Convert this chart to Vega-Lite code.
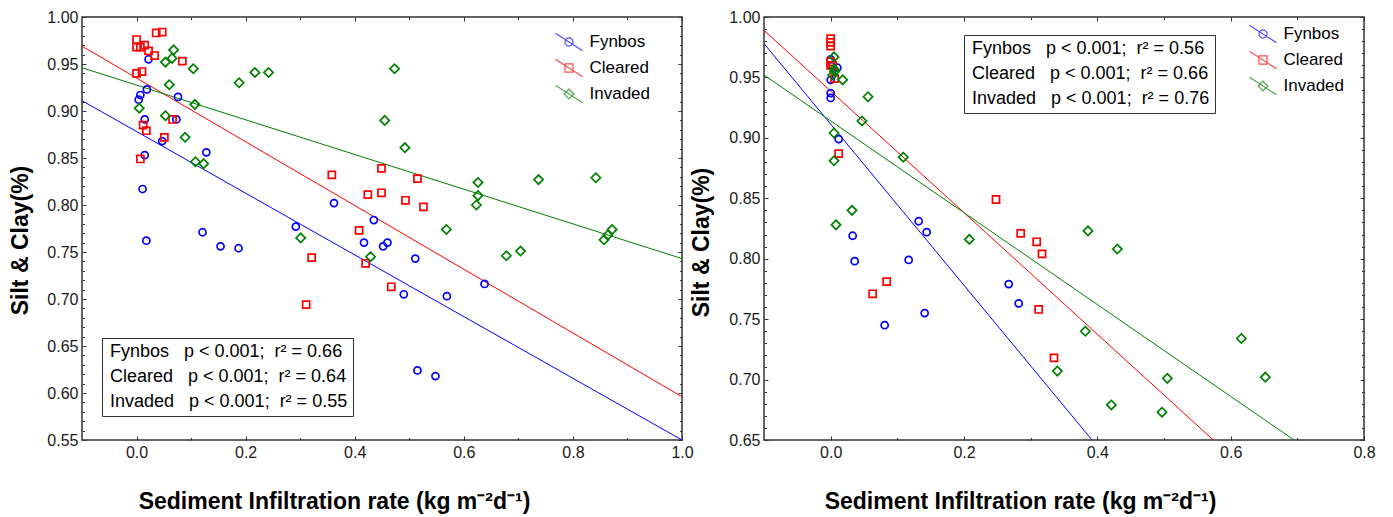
{
  "$schema": "https://vega.github.io/schema/vega-lite/v6.json",
  "background": "white",
  "padding": {"left": 8, "top": 8, "right": 5, "bottom": 5},
  "bounds": "flush",
  "spacing": 82,
  "datasets": {
    "leftLines": [
      {"group": "Fynbos", "x": -0.1, "y": 0.911}, {"group": "Fynbos", "x": 1.0, "y": 0.55},
      {"group": "Cleared", "x": -0.1, "y": 0.969}, {"group": "Cleared", "x": 1.0, "y": 0.596},
      {"group": "Invaded", "x": -0.1, "y": 0.946}, {"group": "Invaded", "x": 1.0, "y": 0.743}
    ],
    "rightLines": [
      {"group": "Fynbos", "x": -0.1, "y": 0.978}, {"group": "Fynbos", "x": 0.392, "y": 0.65},
      {"group": "Cleared", "x": -0.1, "y": 0.989}, {"group": "Cleared", "x": 0.574, "y": 0.65},
      {"group": "Invaded", "x": -0.1, "y": 0.952}, {"group": "Invaded", "x": 0.695, "y": 0.65}
    ],
    "leftPts": [
      {"group": "Fynbos", "x": 0.022, "y": 0.955}, {"group": "Fynbos", "x": 0.019, "y": 0.923}, {"group": "Fynbos", "x": 0.007, "y": 0.917}, {"group": "Fynbos", "x": 0.004, "y": 0.912}, {"group": "Fynbos", "x": 0.076, "y": 0.915}, {"group": "Fynbos", "x": 0.015, "y": 0.891}, {"group": "Fynbos", "x": 0.073, "y": 0.891}, {"group": "Fynbos", "x": 0.047, "y": 0.868}, {"group": "Fynbos", "x": 0.015, "y": 0.853}, {"group": "Fynbos", "x": 0.128, "y": 0.856}, {"group": "Fynbos", "x": 0.011, "y": 0.817}, {"group": "Fynbos", "x": 0.018, "y": 0.762}, {"group": "Fynbos", "x": 0.121, "y": 0.771}, {"group": "Fynbos", "x": 0.154, "y": 0.756}, {"group": "Fynbos", "x": 0.187, "y": 0.754}, {"group": "Fynbos", "x": 0.292, "y": 0.777}, {"group": "Fynbos", "x": 0.362, "y": 0.802}, {"group": "Fynbos", "x": 0.435, "y": 0.784}, {"group": "Fynbos", "x": 0.417, "y": 0.76}, {"group": "Fynbos", "x": 0.452, "y": 0.756}, {"group": "Fynbos", "x": 0.46, "y": 0.76}, {"group": "Fynbos", "x": 0.511, "y": 0.743}, {"group": "Fynbos", "x": 0.49, "y": 0.705}, {"group": "Fynbos", "x": 0.569, "y": 0.703}, {"group": "Fynbos", "x": 0.638, "y": 0.716}, {"group": "Fynbos", "x": 0.515, "y": 0.624}, {"group": "Fynbos", "x": 0.548, "y": 0.618},
      {"group": "Cleared", "x": 0.0, "y": 0.976}, {"group": "Cleared", "x": 0.0, "y": 0.968}, {"group": "Cleared", "x": 0.007, "y": 0.968}, {"group": "Cleared", "x": 0.015, "y": 0.97}, {"group": "Cleared", "x": 0.022, "y": 0.964}, {"group": "Cleared", "x": 0.033, "y": 0.959}, {"group": "Cleared", "x": 0.036, "y": 0.983}, {"group": "Cleared", "x": 0.047, "y": 0.984}, {"group": "Cleared", "x": 0.084, "y": 0.953}, {"group": "Cleared", "x": 0.0, "y": 0.94}, {"group": "Cleared", "x": 0.01, "y": 0.942}, {"group": "Cleared", "x": 0.012, "y": 0.885}, {"group": "Cleared", "x": 0.018, "y": 0.879}, {"group": "Cleared", "x": 0.066, "y": 0.891}, {"group": "Cleared", "x": 0.051, "y": 0.872}, {"group": "Cleared", "x": 0.007, "y": 0.849}, {"group": "Cleared", "x": 0.358, "y": 0.832}, {"group": "Cleared", "x": 0.424, "y": 0.811}, {"group": "Cleared", "x": 0.449, "y": 0.813}, {"group": "Cleared", "x": 0.449, "y": 0.839}, {"group": "Cleared", "x": 0.515, "y": 0.828}, {"group": "Cleared", "x": 0.493, "y": 0.805}, {"group": "Cleared", "x": 0.526, "y": 0.798}, {"group": "Cleared", "x": 0.408, "y": 0.773}, {"group": "Cleared", "x": 0.321, "y": 0.744}, {"group": "Cleared", "x": 0.42, "y": 0.738}, {"group": "Cleared", "x": 0.311, "y": 0.694}, {"group": "Cleared", "x": 0.467, "y": 0.713},
      {"group": "Invaded", "x": 0.068, "y": 0.965}, {"group": "Invaded", "x": 0.065, "y": 0.956}, {"group": "Invaded", "x": 0.053, "y": 0.952}, {"group": "Invaded", "x": 0.104, "y": 0.945}, {"group": "Invaded", "x": 0.06, "y": 0.928}, {"group": "Invaded", "x": 0.188, "y": 0.93}, {"group": "Invaded", "x": 0.217, "y": 0.941}, {"group": "Invaded", "x": 0.242, "y": 0.941}, {"group": "Invaded", "x": 0.005, "y": 0.903}, {"group": "Invaded", "x": 0.107, "y": 0.907}, {"group": "Invaded", "x": 0.053, "y": 0.895}, {"group": "Invaded", "x": 0.089, "y": 0.872}, {"group": "Invaded", "x": 0.108, "y": 0.846}, {"group": "Invaded", "x": 0.123, "y": 0.844}, {"group": "Invaded", "x": 0.301, "y": 0.765}, {"group": "Invaded", "x": 0.429, "y": 0.745}, {"group": "Invaded", "x": 0.455, "y": 0.89}, {"group": "Invaded", "x": 0.473, "y": 0.945}, {"group": "Invaded", "x": 0.492, "y": 0.861}, {"group": "Invaded", "x": 0.626, "y": 0.824}, {"group": "Invaded", "x": 0.626, "y": 0.81}, {"group": "Invaded", "x": 0.623, "y": 0.8}, {"group": "Invaded", "x": 0.737, "y": 0.827}, {"group": "Invaded", "x": 0.842, "y": 0.829}, {"group": "Invaded", "x": 0.568, "y": 0.774}, {"group": "Invaded", "x": 0.678, "y": 0.746}, {"group": "Invaded", "x": 0.704, "y": 0.751}, {"group": "Invaded", "x": 0.857, "y": 0.763}, {"group": "Invaded", "x": 0.864, "y": 0.768}, {"group": "Invaded", "x": 0.872, "y": 0.774}
    ],
    "rightPts": [
      {"group": "Fynbos", "x": 0.0, "y": 0.965}, {"group": "Fynbos", "x": 0.0, "y": 0.96}, {"group": "Fynbos", "x": 0.01, "y": 0.958}, {"group": "Fynbos", "x": 0.0, "y": 0.948}, {"group": "Fynbos", "x": 0.0, "y": 0.937}, {"group": "Fynbos", "x": 0.0, "y": 0.933}, {"group": "Fynbos", "x": 0.012, "y": 0.899}, {"group": "Fynbos", "x": 0.033, "y": 0.819}, {"group": "Fynbos", "x": 0.036, "y": 0.798}, {"group": "Fynbos", "x": 0.081, "y": 0.745}, {"group": "Fynbos", "x": 0.117, "y": 0.799}, {"group": "Fynbos", "x": 0.132, "y": 0.831}, {"group": "Fynbos", "x": 0.144, "y": 0.822}, {"group": "Fynbos", "x": 0.141, "y": 0.755}, {"group": "Fynbos", "x": 0.267, "y": 0.779}, {"group": "Fynbos", "x": 0.282, "y": 0.763},
      {"group": "Cleared", "x": 0.0, "y": 0.982}, {"group": "Cleared", "x": 0.0, "y": 0.979}, {"group": "Cleared", "x": 0.0, "y": 0.976}, {"group": "Cleared", "x": 0.0, "y": 0.96}, {"group": "Cleared", "x": 0.003, "y": 0.96}, {"group": "Cleared", "x": 0.0, "y": 0.963}, {"group": "Cleared", "x": 0.006, "y": 0.949}, {"group": "Cleared", "x": 0.012, "y": 0.887}, {"group": "Cleared", "x": 0.248, "y": 0.849}, {"group": "Cleared", "x": 0.285, "y": 0.821}, {"group": "Cleared", "x": 0.309, "y": 0.814}, {"group": "Cleared", "x": 0.317, "y": 0.804}, {"group": "Cleared", "x": 0.312, "y": 0.758}, {"group": "Cleared", "x": 0.335, "y": 0.718}, {"group": "Cleared", "x": 0.063, "y": 0.771}, {"group": "Cleared", "x": 0.084, "y": 0.781},
      {"group": "Invaded", "x": 0.005, "y": 0.967}, {"group": "Invaded", "x": 0.005, "y": 0.957}, {"group": "Invaded", "x": 0.006, "y": 0.955}, {"group": "Invaded", "x": 0.003, "y": 0.952}, {"group": "Invaded", "x": 0.018, "y": 0.948}, {"group": "Invaded", "x": 0.056, "y": 0.934}, {"group": "Invaded", "x": 0.047, "y": 0.914}, {"group": "Invaded", "x": 0.005, "y": 0.904}, {"group": "Invaded", "x": 0.005, "y": 0.881}, {"group": "Invaded", "x": 0.109, "y": 0.884}, {"group": "Invaded", "x": 0.008, "y": 0.828}, {"group": "Invaded", "x": 0.032, "y": 0.84}, {"group": "Invaded", "x": 0.208, "y": 0.816}, {"group": "Invaded", "x": 0.386, "y": 0.823}, {"group": "Invaded", "x": 0.43, "y": 0.808}, {"group": "Invaded", "x": 0.382, "y": 0.74}, {"group": "Invaded", "x": 0.34, "y": 0.707}, {"group": "Invaded", "x": 0.421, "y": 0.679}, {"group": "Invaded", "x": 0.497, "y": 0.673}, {"group": "Invaded", "x": 0.505, "y": 0.701}, {"group": "Invaded", "x": 0.616, "y": 0.734}, {"group": "Invaded", "x": 0.652, "y": 0.702}
    ],
    "leftStats": [
      {"label": "Fynbos\u00a0\u00a0\u00a0p < 0.001;\u00a0\u00a0r² = 0.66"},
      {"label": "Cleared\u00a0\u00a0\u00a0p < 0.001;\u00a0\u00a0r² = 0.64"},
      {"label": "Invaded\u00a0\u00a0\u00a0p < 0.001;\u00a0\u00a0r² = 0.55"}
    ],
    "rightStats": [
      {"label": "Fynbos\u00a0\u00a0\u00a0p < 0.001;\u00a0\u00a0r² = 0.56"},
      {"label": "Cleared\u00a0\u00a0\u00a0p < 0.001;\u00a0\u00a0r² = 0.66"},
      {"label": "Invaded\u00a0\u00a0\u00a0p < 0.001;\u00a0\u00a0r² = 0.76"}
    ]
  },
  "hconcat": [
    {
      "width": 600,
      "height": 423,
      "layer": [
        {
          "data": {"name": "leftLines"},
          "mark": {"type": "line", "clip": true, "strokeWidth": 1},
          "encoding": {
            "x": {"field": "x", "type": "quantitative", "scale": {"domain": [-0.1, 1.0], "nice": false, "zero": false},
              "axis": {"values": [0, 0.2, 0.4, 0.6, 0.8, 1.0], "format": ".1f", "tickSize": -4, "labelPadding": 8, "title": "Sediment Infiltration rate (kg m⁻²d⁻¹)", "titleX": 252, "titleY": 61, "titleBaseline": "middle", "titleAlign": "center"}},
            "y": {"field": "y", "type": "quantitative", "scale": {"domain": [0.55, 1.0], "nice": false, "zero": false},
              "axis": {"values": [0.55, 0.6, 0.65, 0.7, 0.75, 0.8, 0.85, 0.9, 0.95, 1.0], "format": ".2f", "tickSize": -4, "labelPadding": 8, "title": "Silt & Clay(%)", "titleX": -62, "titleY": 223, "titleBaseline": "middle", "titleAlign": "center"}},
            "stroke": {"field": "group", "type": "nominal", "scale": {"domain": ["Cleared", "Fynbos", "Invaded"], "range": ["#ff0000", "#0000ff", "#008000"]}, "legend": null}
          }
        },
        {
          "data": {"name": "leftPts"},
          "mark": {"type": "point", "filled": false, "strokeWidth": 1.7, "size": 50, "opacity": 1},
          "encoding": {
            "x": {"field": "x", "type": "quantitative", "scale": {"domain": [-0.1, 1.0], "nice": false, "zero": false}, "axis": null},
            "y": {"field": "y", "type": "quantitative", "scale": {"domain": [0.55, 1.0], "nice": false, "zero": false}, "axis": null},
            "color": {"field": "group", "type": "nominal", "scale": {"domain": ["Cleared", "Fynbos", "Invaded"], "range": ["#ff0000", "#0000ff", "#008000"]}, "legend": null},
            "shape": {"field": "group", "type": "nominal", "scale": {"domain": ["Cleared", "Fynbos", "Invaded"], "range": ["square", "circle", "M-1.3,0L0,-1.3L1.3,0L0,1.3Z"]}, "legend": null}
          }
        },
        {
          "data": {"values": []},
          "mark": {"type": "point", "filled": false, "strokeWidth": 1.2},
          "encoding": {
            "x": {"field": "x", "type": "quantitative", "scale": {"domain": [-0.1, 1.0], "nice": false, "zero": false}, "axis": null},
            "y": {"field": "y", "type": "quantitative", "scale": {"domain": [0.55, 1.0], "nice": false, "zero": false}, "axis": null},
            "color": {"field": "group", "type": "nominal", "scale": {"domain": ["Fynbos", "Cleared", "Invaded"], "range": ["#0000ff", "#ff0000", "#008000"]},
              "legend": {"orient": "none", "legendX": 472.5, "legendY": 10.5, "title": null, "symbolSize": 729, "symbolStrokeWidth": 1.2, "symbolFillColor": "transparent", "labelFontSize": 17, "labelColor": "#000", "labelOffset": 6, "rowPadding": -9.5, "padding": 0}},
            "shape": {"field": "group", "type": "nominal", "scale": {"domain": ["Fynbos", "Cleared", "Invaded"], "range": ["M-1,-0.65L1,0.65M-0.3,0A0.3,0.3 0 1,0 0.3,0A0.3,0.3 0 1,0 -0.3,0Z", "M-1,-0.65L1,0.65M-0.3,-0.3L0.3,-0.3L0.3,0.3L-0.3,0.3Z", "M-1,-0.65L1,0.65M-0.36,0L0,-0.36L0.36,0L0,0.36Z"]},
              "legend": {"orient": "none", "legendX": 472.5, "legendY": 10.5, "title": null, "symbolSize": 729, "symbolStrokeWidth": 1.2, "symbolFillColor": "transparent", "labelFontSize": 17, "labelColor": "#000", "labelOffset": 6, "rowPadding": -9.5, "padding": 0}}
          }
        },
        {
          "data": {"name": "leftPts"},
          "mark": {"type": "point", "opacity": 0},
          "encoding": {
            "x": {"field": "x", "type": "quantitative", "scale": {"domain": [-0.1, 1.0], "nice": false, "zero": false},
              "axis": {"orient": "top", "values": [0, 0.2, 0.4, 0.6, 0.8, 1.0], "labels": false, "title": null, "tickSize": -4}},
            "y": {"field": "y", "type": "quantitative", "scale": {"domain": [0.55, 1.0], "nice": false, "zero": false},
              "axis": {"orient": "right", "values": [0.55, 0.6, 0.65, 0.7, 0.75, 0.8, 0.85, 0.9, 0.95, 1.0], "labels": false, "title": null, "tickSize": -4}}
          }
        },
        {
          "data": {"name": "leftPts"},
          "mark": {"type": "point", "opacity": 0},
          "encoding": {
            "x": {"field": "x", "type": "quantitative", "scale": {"domain": [-0.1, 1.0], "nice": false, "zero": false},
              "axis": {"orient": "bottom", "values": [0.1, 0.3, 0.5, 0.7, 0.9], "labels": false, "title": null, "tickSize": -2.5}},
            "y": {"field": "y", "type": "quantitative", "scale": {"domain": [0.55, 1.0], "nice": false, "zero": false},
              "axis": {"orient": "left", "values": [0.56, 0.57, 0.58, 0.59, 0.61, 0.62, 0.63, 0.64, 0.66, 0.67, 0.68, 0.69, 0.71, 0.72, 0.73, 0.74, 0.76, 0.77, 0.78, 0.79, 0.81, 0.82, 0.83, 0.84, 0.86, 0.87, 0.88, 0.89, 0.91, 0.92, 0.93, 0.94, 0.96, 0.97, 0.98, 0.99], "labels": false, "title": null, "tickSize": -2.5}}
          }
        },
        {
          "data": {"name": "leftPts"},
          "mark": {"type": "point", "opacity": 0},
          "encoding": {
            "x": {"field": "x", "type": "quantitative", "scale": {"domain": [-0.1, 1.0], "nice": false, "zero": false},
              "axis": {"orient": "top", "values": [0.1, 0.3, 0.5, 0.7, 0.9], "labels": false, "title": null, "tickSize": -2.5}},
            "y": {"field": "y", "type": "quantitative", "scale": {"domain": [0.55, 1.0], "nice": false, "zero": false},
              "axis": {"orient": "right", "values": [0.56, 0.57, 0.58, 0.59, 0.61, 0.62, 0.63, 0.64, 0.66, 0.67, 0.68, 0.69, 0.71, 0.72, 0.73, 0.74, 0.76, 0.77, 0.78, 0.79, 0.81, 0.82, 0.83, 0.84, 0.86, 0.87, 0.88, 0.89, 0.91, 0.92, 0.93, 0.94, 0.96, 0.97, 0.98, 0.99], "labels": false, "title": null, "tickSize": -2.5}}
          }
        },
        {
          "data": {"name": "leftStats"},
          "mark": {"type": "point", "opacity": 0},
          "encoding": {
            "fill": {"field": "label", "type": "nominal", "sort": null, "scale": {"domain": ["Fynbos\u00a0\u00a0\u00a0p < 0.001;\u00a0\u00a0r² = 0.66", "Cleared\u00a0\u00a0\u00a0p < 0.001;\u00a0\u00a0r² = 0.64", "Invaded\u00a0\u00a0\u00a0p < 0.001;\u00a0\u00a0r² = 0.55"], "range": ["#ffffff", "#ffffff", "#ffffff"]},
              "legend": {"orient": "none", "legendX": 20, "legendY": 321, "title": null, "symbolSize": 0.01, "symbolOpacity": 0, "symbolStrokeWidth": 0, "labelOffset": -15, "labelFontSize": 18, "labelColor": "#000", "labelLimit": 500, "padding": 5, "strokeColor": "#333333", "fillColor": "#ffffff", "rowPadding": 7}}
          }
        }
      ],
      "resolve": {"axis": {"x": "independent", "y": "independent"}, "scale": {"color": "independent", "shape": "independent"}, "legend": {"color": "independent", "shape": "independent"}}
    },
    {
      "width": 600,
      "height": 423,
      "layer": [
        {
          "data": {"name": "rightLines"},
          "mark": {"type": "line", "clip": true, "strokeWidth": 1},
          "encoding": {
            "x": {"field": "x", "type": "quantitative", "scale": {"domain": [-0.1, 0.8], "nice": false, "zero": false},
              "axis": {"values": [0, 0.2, 0.4, 0.6, 0.8], "format": ".1f", "tickSize": -4, "labelPadding": 8, "title": "Sediment Infiltration rate (kg m⁻²d⁻¹)", "titleX": 256, "titleY": 61, "titleBaseline": "middle", "titleAlign": "center"}},
            "y": {"field": "y", "type": "quantitative", "scale": {"domain": [0.65, 1.0], "nice": false, "zero": false},
              "axis": {"values": [0.65, 0.7, 0.75, 0.8, 0.85, 0.9, 0.95, 1.0], "format": ".2f", "tickSize": -4, "labelPadding": 8, "title": "Silt & Clay(%)", "titleX": -63, "titleY": 225, "titleBaseline": "middle", "titleAlign": "center"}},
            "stroke": {"field": "group", "type": "nominal", "scale": {"domain": ["Cleared", "Fynbos", "Invaded"], "range": ["#ff0000", "#0000ff", "#008000"]}, "legend": null}
          }
        },
        {
          "data": {"name": "rightPts"},
          "mark": {"type": "point", "filled": false, "strokeWidth": 1.7, "size": 50, "opacity": 1},
          "encoding": {
            "x": {"field": "x", "type": "quantitative", "scale": {"domain": [-0.1, 0.8], "nice": false, "zero": false}, "axis": null},
            "y": {"field": "y", "type": "quantitative", "scale": {"domain": [0.65, 1.0], "nice": false, "zero": false}, "axis": null},
            "color": {"field": "group", "type": "nominal", "scale": {"domain": ["Cleared", "Fynbos", "Invaded"], "range": ["#ff0000", "#0000ff", "#008000"]}, "legend": null},
            "shape": {"field": "group", "type": "nominal", "scale": {"domain": ["Cleared", "Fynbos", "Invaded"], "range": ["square", "circle", "M-1.3,0L0,-1.3L1.3,0L0,1.3Z"]}, "legend": null}
          }
        },
        {
          "data": {"values": []},
          "mark": {"type": "point", "filled": false, "strokeWidth": 1.2},
          "encoding": {
            "x": {"field": "x", "type": "quantitative", "scale": {"domain": [-0.1, 0.8], "nice": false, "zero": false}, "axis": null},
            "y": {"field": "y", "type": "quantitative", "scale": {"domain": [0.65, 1.0], "nice": false, "zero": false}, "axis": null},
            "color": {"field": "group", "type": "nominal", "scale": {"domain": ["Fynbos", "Cleared", "Invaded"], "range": ["#0000ff", "#ff0000", "#008000"]},
              "legend": {"orient": "none", "legendX": 484.5, "legendY": 2.5, "title": null, "symbolSize": 729, "symbolStrokeWidth": 1.2, "symbolFillColor": "transparent", "labelFontSize": 17, "labelColor": "#000", "labelOffset": 6, "rowPadding": -9, "padding": 0}},
            "shape": {"field": "group", "type": "nominal", "scale": {"domain": ["Fynbos", "Cleared", "Invaded"], "range": ["M-1,-0.65L1,0.65M-0.3,0A0.3,0.3 0 1,0 0.3,0A0.3,0.3 0 1,0 -0.3,0Z", "M-1,-0.65L1,0.65M-0.3,-0.3L0.3,-0.3L0.3,0.3L-0.3,0.3Z", "M-1,-0.65L1,0.65M-0.36,0L0,-0.36L0.36,0L0,0.36Z"]},
              "legend": {"orient": "none", "legendX": 484.5, "legendY": 2.5, "title": null, "symbolSize": 729, "symbolStrokeWidth": 1.2, "symbolFillColor": "transparent", "labelFontSize": 17, "labelColor": "#000", "labelOffset": 6, "rowPadding": -9, "padding": 0}}
          }
        },
        {
          "data": {"name": "rightPts"},
          "mark": {"type": "point", "opacity": 0},
          "encoding": {
            "x": {"field": "x", "type": "quantitative", "scale": {"domain": [-0.1, 0.8], "nice": false, "zero": false},
              "axis": {"orient": "top", "values": [0, 0.2, 0.4, 0.6, 0.8], "labels": false, "title": null, "tickSize": -4}},
            "y": {"field": "y", "type": "quantitative", "scale": {"domain": [0.65, 1.0], "nice": false, "zero": false},
              "axis": {"orient": "right", "values": [0.65, 0.7, 0.75, 0.8, 0.85, 0.9, 0.95, 1.0], "labels": false, "title": null, "tickSize": -4}}
          }
        },
        {
          "data": {"name": "rightPts"},
          "mark": {"type": "point", "opacity": 0},
          "encoding": {
            "x": {"field": "x", "type": "quantitative", "scale": {"domain": [-0.1, 0.8], "nice": false, "zero": false},
              "axis": {"orient": "bottom", "values": [0.1, 0.3, 0.5, 0.7], "labels": false, "title": null, "tickSize": -2.5}},
            "y": {"field": "y", "type": "quantitative", "scale": {"domain": [0.65, 1.0], "nice": false, "zero": false},
              "axis": {"orient": "left", "values": [0.66, 0.67, 0.68, 0.69, 0.71, 0.72, 0.73, 0.74, 0.76, 0.77, 0.78, 0.79, 0.81, 0.82, 0.83, 0.84, 0.86, 0.87, 0.88, 0.89, 0.91, 0.92, 0.93, 0.94, 0.96, 0.97, 0.98, 0.99], "labels": false, "title": null, "tickSize": -2.5}}
          }
        },
        {
          "data": {"name": "rightPts"},
          "mark": {"type": "point", "opacity": 0},
          "encoding": {
            "x": {"field": "x", "type": "quantitative", "scale": {"domain": [-0.1, 0.8], "nice": false, "zero": false},
              "axis": {"orient": "top", "values": [0.1, 0.3, 0.5, 0.7], "labels": false, "title": null, "tickSize": -2.5}},
            "y": {"field": "y", "type": "quantitative", "scale": {"domain": [0.65, 1.0], "nice": false, "zero": false},
              "axis": {"orient": "right", "values": [0.66, 0.67, 0.68, 0.69, 0.71, 0.72, 0.73, 0.74, 0.76, 0.77, 0.78, 0.79, 0.81, 0.82, 0.83, 0.84, 0.86, 0.87, 0.88, 0.89, 0.91, 0.92, 0.93, 0.94, 0.96, 0.97, 0.98, 0.99], "labels": false, "title": null, "tickSize": -2.5}}
          }
        },
        {
          "data": {"name": "rightStats"},
          "mark": {"type": "point", "opacity": 0},
          "encoding": {
            "fill": {"field": "label", "type": "nominal", "sort": null, "scale": {"domain": ["Fynbos\u00a0\u00a0\u00a0p < 0.001;\u00a0\u00a0r² = 0.56", "Cleared\u00a0\u00a0\u00a0p < 0.001;\u00a0\u00a0r² = 0.66", "Invaded\u00a0\u00a0\u00a0p < 0.001;\u00a0\u00a0r² = 0.76"], "range": ["#ffffff", "#ffffff", "#ffffff"]},
              "legend": {"orient": "none", "legendX": 200, "legendY": 18, "title": null, "symbolSize": 0.01, "symbolOpacity": 0, "symbolStrokeWidth": 0, "labelOffset": -15, "labelFontSize": 18, "labelColor": "#000", "labelLimit": 500, "padding": 5, "strokeColor": "#333333", "fillColor": "#ffffff", "rowPadding": 7}}
          }
        }
      ],
      "resolve": {"axis": {"x": "independent", "y": "independent"}, "scale": {"color": "independent", "shape": "independent"}, "legend": {"color": "independent", "shape": "independent"}}
    }
  ],
  "resolve": {
    "scale": {"x": "independent", "y": "independent", "color": "independent", "stroke": "independent", "shape": "independent", "fill": "independent"},
    "legend": {"color": "independent", "fill": "independent", "shape": "independent", "stroke": "independent"}
  },
  "config": {
    "font": "Liberation Sans",
    "view": {"stroke": "#333333", "strokeWidth": 1.5},
    "legend": {"labelFont": "Liberation Sans"},
    "axis": {"grid": false, "domain": false, "tickColor": "#333333", "tickWidth": 1, "labelFont": "Liberation Sans", "labelFontSize": 16, "labelColor": "#1a1a1a", "labelFlush": false, "labelOverlap": false, "titleFont": "Liberation Sans", "titleFontSize": 23, "titleFontWeight": "bold", "titleColor": "#000000"}
  }
}
